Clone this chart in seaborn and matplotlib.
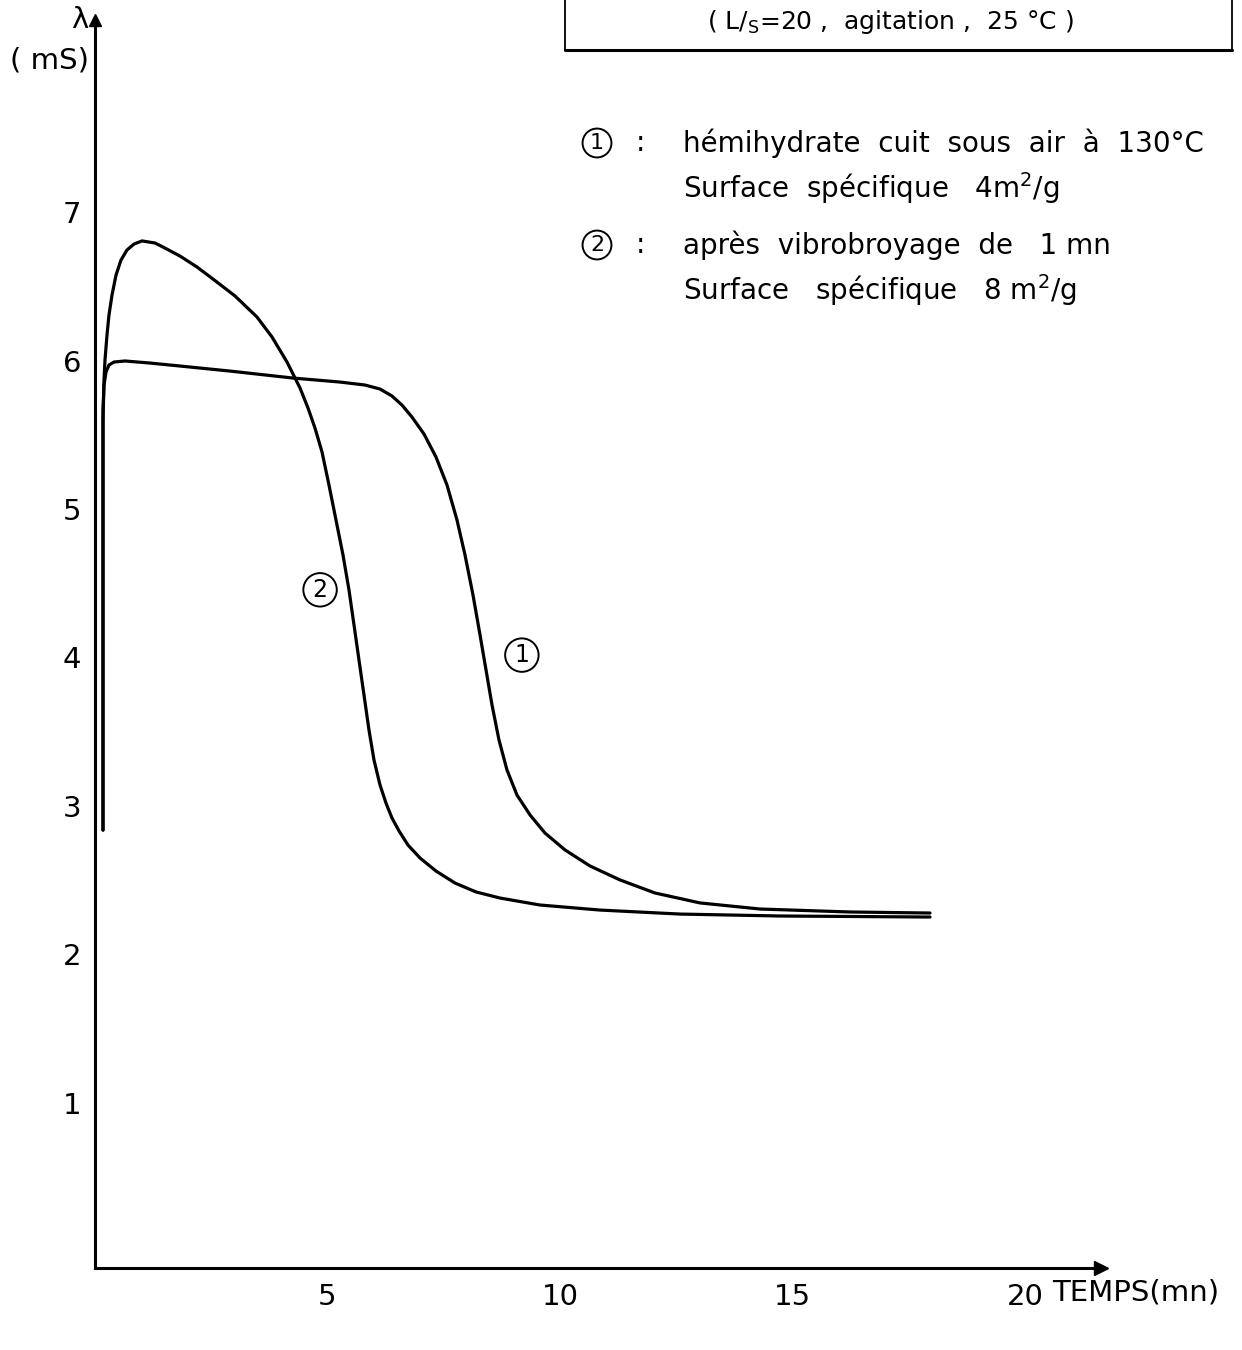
import numpy as np
import pandas as pd
import matplotlib
matplotlib.use("Agg")
import matplotlib.pyplot as plt
import seaborn as sns
from matplotlib.lines import Line2D

# ---- data ----
t1 = [0.172, 0.172, 0.172, 0.194, 0.237, 0.301, 0.409, 0.645, 1.183, 1.828, 2.903,
      4.258, 5.269, 5.806, 6.129, 6.387, 6.602, 6.817, 7.075, 7.333, 7.570, 7.785,
      7.957, 8.129, 8.280, 8.409, 8.538, 8.688, 8.860, 9.075, 9.355, 9.677, 10.108,
      10.645, 11.290, 12.043, 13.011, 14.301, 16.237, 17.957]
v1 = [2.951, 5.175, 5.782, 5.950, 6.038, 6.085, 6.105, 6.112, 6.098, 6.078, 6.044,
      5.997, 5.970, 5.950, 5.923, 5.876, 5.815, 5.734, 5.620, 5.465, 5.276, 5.040,
      4.805, 4.535, 4.266, 4.030, 3.794, 3.558, 3.356, 3.187, 3.053, 2.931, 2.817,
      2.709, 2.615, 2.527, 2.460, 2.419, 2.399, 2.392]

t2 = [0.172, 0.172, 0.172, 0.194, 0.215, 0.258, 0.301, 0.366, 0.452, 0.559, 0.688,
      0.839, 1.011, 1.290, 1.462, 1.828, 2.194, 2.538, 3.011, 3.484, 3.806, 4.129,
      4.409, 4.581, 4.731, 4.882, 5.032, 5.183, 5.333, 5.462, 5.570, 5.677, 5.785,
      5.892, 6.000, 6.129, 6.258, 6.387, 6.538, 6.731, 6.989, 7.333, 7.742, 8.194,
      8.710, 9.570, 10.860, 12.581, 14.731, 17.957]
v2 = [2.951, 5.175, 5.714, 5.984, 6.119, 6.287, 6.422, 6.557, 6.691, 6.792, 6.860,
      6.900, 6.921, 6.907, 6.880, 6.819, 6.745, 6.664, 6.550, 6.408, 6.274, 6.105,
      5.930, 5.795, 5.660, 5.499, 5.276, 5.040, 4.805, 4.569, 4.333, 4.097, 3.861,
      3.625, 3.423, 3.255, 3.133, 3.032, 2.945, 2.850, 2.763, 2.675, 2.594, 2.534,
      2.493, 2.446, 2.412, 2.385, 2.372, 2.365]

x_ticks = [5, 10, 15, 20]
y_ticks = [1, 2, 3, 4, 5, 6, 7]
curve_names = ["1", "2"]

df = pd.concat([
    pd.DataFrame({"t": t1, "v": v1, "courbe": curve_names[0]}),
    pd.DataFrame({"t": t2, "v": v2, "courbe": curve_names[1]}),
], ignore_index=True)

# ---- figure ----
sns.set_style("white")
plt.rcParams["font.family"] = ["DejaVu Sans"]
plt.rcParams["text.color"] = "black"
plt.rcParams["xtick.color"] = "black"
plt.rcParams["ytick.color"] = "black"
plt.rcParams["xtick.labelcolor"] = "black"
plt.rcParams["ytick.labelcolor"] = "black"

W, H = 1242, 1350
fig = plt.figure(figsize=(W / 100, H / 100), dpi=100)
left_px, right_px, bottom_px, top_px = 95, 1101, 1268, 20
ax = fig.add_axes([left_px / W, 1 - bottom_px / H,
                   (right_px - left_px) / W, (bottom_px - top_px) / H])

sns.lineplot(data=df, x="t", y="v", hue="courbe", palette=["black", "black"],
             sort=False, estimator=None, legend=False, linewidth=2.3, ax=ax,
             solid_joinstyle="round", solid_capstyle="round")

ax.set_xlim(0, (right_px - left_px) / 46.5)
ax.set_ylim(0, (bottom_px - top_px) / 148.4)
ax.set_xlabel("")
ax.set_ylabel("")

for s in ["top", "right"]:
    ax.spines[s].set_visible(False)
for s in ["left", "bottom"]:
    ax.spines[s].set_linewidth(2.2)
    ax.spines[s].set_color("black")

ax.set_xticks(x_ticks)
ax.set_xticklabels([str(v) for v in x_ticks])
ax.set_yticks(y_ticks)
ax.set_yticklabels([str(v) for v in y_ticks])
ax.tick_params(axis="x", direction="out", length=7, width=1.2, pad=4, labelsize=21,
               colors="black")
ax.tick_params(axis="y", direction="out", length=9, width=1.5, pad=1, labelsize=21,
               colors="black")
for lab in ax.get_yticklabels():
    lab.set_va("bottom")

# arrow heads on axes
ax.plot(1, 0, marker=">", color="black", markersize=10, transform=ax.transAxes, clip_on=False)
ax.plot(0, 1, marker="^", color="black", markersize=9, transform=ax.transAxes, clip_on=False)


def fx(px):
    return px / W


def fy(py):
    return 1 - py / H


# axis titles
fig.text(fx(80), fy(20), "λ", fontsize=21, ha="center", va="center")
fig.text(fx(50), fy(60), "( mS)", fontsize=21, ha="center", va="center")
fig.text(fx(1052), fy(1292), "TEMPS(mn)", fontsize=21, ha="left", va="center")

# curve labels (circled numbers)
circ = dict(boxstyle="circle,pad=0.2", fc="white", ec="black", lw=1.4)
ax.text(4.84, 4.57, "2", fontsize=17, ha="center", va="center", bbox=circ)
ax.text(9.18, 4.13, "1", fontsize=17, ha="center", va="center", bbox=circ)

# legend text
fig.text(fx(597), fy(143), "1", fontsize=16, ha="center", va="center", bbox=circ)
fig.text(fx(640), fy(143), ":", fontsize=20, ha="center", va="center")
fig.text(fx(683), fy(143), "hémihydrate  cuit  sous  air  à  130°C", fontsize=20,
         ha="left", va="center")
fig.text(fx(683), fy(188), "Surface  spécifique   4m$^{\\mathregular{2}}$/g", fontsize=20,
         ha="left", va="center")
fig.text(fx(597), fy(245), "2", fontsize=16, ha="center", va="center", bbox=circ)
fig.text(fx(640), fy(245), ":", fontsize=20, ha="center", va="center")
fig.text(fx(683), fy(245), "après  vibrobroyage  de   1 mn", fontsize=20,
         ha="left", va="center")
fig.text(fx(683), fy(290), "Surface   spécifique   8 m$^{\\mathregular{2}}$/g", fontsize=20,
         ha="left", va="center")

# top box (partially cut off by the top edge)
box_l, box_r, box_b = 565, 1232, 50
fig.add_artist(Line2D([fx(box_l), fx(box_r)], [fy(box_b), fy(box_b)], color="black",
                      lw=2.2, transform=fig.transFigure))
fig.add_artist(Line2D([fx(box_l), fx(box_l)], [fy(box_b), 1.0], color="black",
                      lw=1.3, transform=fig.transFigure))
fig.add_artist(Line2D([fx(box_r), fx(box_r)], [fy(box_b), 1.0], color="black",
                      lw=1.3, transform=fig.transFigure))
fig.text(fx(890), fy(22), "( L/$_{\\mathregular{S}}$=20 ,  agitation ,  25 °C )", fontsize=18,
         ha="center", va="center")

fig.savefig("out.png", dpi=100)
